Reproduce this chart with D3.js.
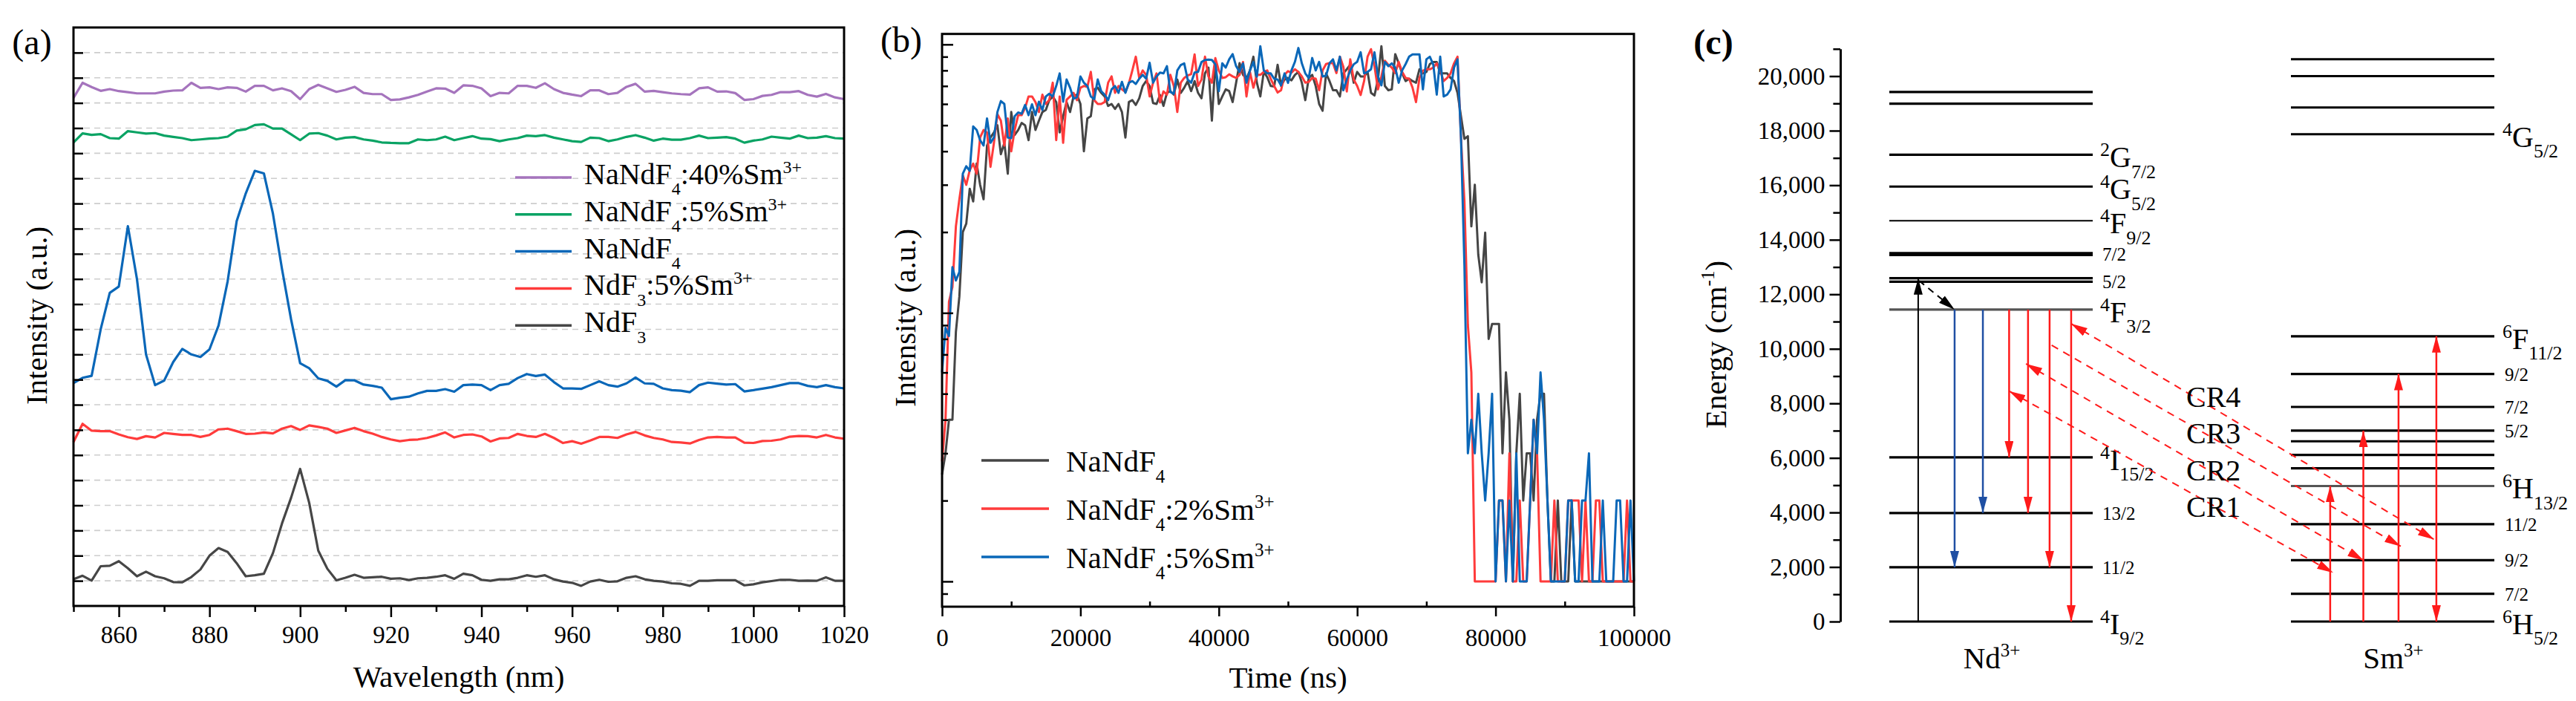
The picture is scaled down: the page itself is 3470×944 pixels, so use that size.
<!DOCTYPE html>
<html><head><meta charset="utf-8">
<script src="https://cdn.jsdelivr.net/npm/d3@7/dist/d3.min.js"></script>
<style>
html,body{margin:0;padding:0;background:#fff;}
svg{display:block;}
svg text, svg tspan { font-family: "Liberation Serif", "DejaVu Serif", "Times New Roman", serif; }
</style></head>
<body>
<svg id="fig" width="3470" height="944" xmlns="http://www.w3.org/2000/svg"></svg>
<script>
// ================= DATA =================
// (a) emission spectra, stacked, arbitrary units, every 2 nm from 850 to 1020 nm
const wavelength = d3.range(850, 1021, 2);
const specNdF3 = [
 1.06,1.20,1.01,1.58,1.60,1.78,1.50,1.18,1.36,1.18,
 1.10,0.95,0.94,1.15,1.45,2.00,2.30,2.15,1.70,1.18,
 1.22,1.28,2.10,3.28,4.30,5.45,4.10,2.20,1.48,1.02,
 1.12,1.24,1.12,1.14,1.16,1.08,1.10,1.03,1.10,1.12,
 1.16,1.22,1.08,1.28,1.22,1.04,1.00,1.06,1.06,1.12,
 1.22,1.16,1.22,1.06,0.97,0.92,0.80,0.97,1.04,0.96,
 0.98,1.12,1.18,1.06,1.00,0.97,0.90,0.88,0.80,1.00,
 1.00,1.02,1.02,1.02,0.82,0.86,0.94,0.99,1.04,1.04,
 1.00,1.01,1.00,1.14,1.00,1.00];
const specNdF3Sm5 = [
 6.52,7.24,6.97,6.95,6.95,6.82,6.71,6.64,6.75,6.70,
 6.88,6.84,6.80,6.80,6.72,6.80,7.02,7.05,6.95,6.84,
 6.85,6.90,6.86,7.05,7.15,7.00,7.18,7.12,7.05,6.88,
 6.98,7.08,6.95,6.85,6.72,6.62,6.55,6.60,6.62,6.68,
 6.78,6.90,6.70,6.80,6.82,6.74,6.54,6.66,6.68,6.84,
 6.76,6.72,6.84,6.68,6.48,6.55,6.45,6.58,6.72,6.72,
 6.68,6.82,6.92,6.78,6.68,6.62,6.52,6.50,6.46,6.60,
 6.70,6.72,6.70,6.70,6.49,6.48,6.56,6.57,6.62,6.73,
 6.76,6.75,6.70,6.80,6.70,6.65];
const specNaNdF4 = [
 8.86,9.07,9.15,11.0,12.45,12.70,15.10,13.00,10.00,8.78,
 8.96,9.70,10.22,10.00,9.90,10.20,11.15,12.90,15.30,16.40,
 17.30,17.20,15.60,13.40,11.40,9.65,9.45,9.05,8.95,8.72,
 8.98,8.97,8.80,8.75,8.68,8.22,8.28,8.32,8.45,8.55,
 8.55,8.62,8.52,8.78,8.80,8.78,8.58,8.78,8.83,9.06,
 9.22,9.14,9.20,8.90,8.65,8.65,8.63,8.78,8.93,8.78,
 8.72,8.85,9.08,8.85,8.83,8.65,8.58,8.56,8.50,8.78,
 8.88,8.84,8.80,8.82,8.53,8.58,8.64,8.70,8.78,8.86,
 8.86,8.75,8.70,8.78,8.70,8.65];
const specNaNdF4Sm5 = [
 18.43,18.79,18.73,18.76,18.60,18.58,18.88,18.83,18.78,18.80,
 18.70,18.65,18.60,18.52,18.55,18.58,18.60,18.66,18.90,18.95,
 19.12,19.15,18.98,18.98,18.75,18.52,18.78,18.80,18.70,18.55,
 18.62,18.64,18.55,18.50,18.43,18.41,18.40,18.40,18.55,18.52,
 18.55,18.66,18.52,18.60,18.68,18.58,18.56,18.48,18.55,18.60,
 18.70,18.68,18.72,18.62,18.55,18.48,18.45,18.62,18.60,18.48,
 18.55,18.65,18.72,18.62,18.50,18.58,18.54,18.54,18.60,18.70,
 18.60,18.62,18.64,18.58,18.42,18.50,18.55,18.66,18.62,18.58,
 18.70,18.60,18.62,18.68,18.60,18.58];
const specNaNdF4Sm40 = [
 20.20,20.80,20.63,20.48,20.55,20.47,20.43,20.38,20.38,20.38,
 20.45,20.49,20.50,20.80,20.60,20.62,20.55,20.62,20.60,20.45,
 20.68,20.68,20.50,20.58,20.47,20.15,20.55,20.72,20.58,20.44,
 20.52,20.64,20.40,20.35,20.35,20.12,20.14,20.22,20.32,20.45,
 20.58,20.57,20.40,20.70,20.68,20.58,20.27,20.40,20.38,20.68,
 20.68,20.60,20.78,20.55,20.40,20.33,20.27,20.50,20.50,20.35,
 20.40,20.64,20.76,20.45,20.48,20.43,20.38,20.35,20.33,20.58,
 20.62,20.45,20.46,20.39,20.12,20.15,20.28,20.32,20.43,20.43,
 20.47,20.32,20.25,20.36,20.22,20.15];
const aXMajor = [860,880,900,920,940,960,980,1000,1020];
const aXMinor = [850,870,890,910,930,950,970,990,1010];
const aYTicks = d3.range(1, 23);

// (b) time-resolved intensity (counts), every 500 ns from 0 to 100000 ns
const timeNs = d3.range(0, 100001, 500);
const decayNaNdF4 = [
 25,30,40,40,85,115,200,215,290,260,
 360,300,265,420,450,470,500,390,430,330,
 560,460,480,510,500,440,560,480,520,560,
 570,620,640,610,470,540,610,560,640,650,
 600,400,530,540,680,690,660,640,590,600,
 575,600,560,450,610,620,595,630,700,730,
 700,605,600,648,590,660,670,650,740,660,
 690,730,670,730,660,630,780,820,520,860,
 600,640,680,670,610,720,852,770,745,800,
 900,720,640,791,755,700,697,840,700,740,
 750,735,770,790,720,620,750,770,700,600,
 566,780,730,675,675,640,780,808,840,720,
 790,760,760,790,660,645,740,985,700,675,
 680,920,850,780,730,745,730,720,808,780,
 790,845,860,860,780,780,780,750,730,660,
 540,445,455,210,300,165,130,199,80,91,
 91,91,30,60,40,10,30,50,20,30,
 30,20,40,50,50,20,10,10,20,10,
 10,10,20,10,10,10,10,10,10,10,
 10,10,10,10,10,10,10,10,10,10,
 10];
const decaySm2 = [
 28,40,110,125,210,265,325,300,340,360,
 330,450,480,470,350,430,550,520,420,530,
 400,480,545,545,580,640,640,610,560,650,
 600,622,720,440,640,430,622,640,660,620,
 690,700,695,790,620,600,600,610,720,760,
 660,700,680,665,715,800,900,750,800,770,
 640,720,780,608,668,650,770,700,560,720,
 750,766,775,918,700,740,900,760,720,889,
 800,750,755,774,760,750,770,860,640,790,
 690,770,770,790,800,745,700,662,675,770,
 795,785,808,790,760,720,725,750,745,675,
 800,845,852,852,782,900,825,668,880,740,
 700,648,730,900,960,830,680,760,870,840,
 820,782,860,790,750,745,690,610,750,799,
 808,808,820,850,800,730,750,780,850,900,
 450,260,90,60,10,10,10,10,10,10,
 10,20,20,10,30,10,10,20,10,10,
 20,40,30,10,10,10,10,20,10,10,
 10,20,20,20,20,10,20,10,10,20,
 20,10,10,10,10,10,10,10,20,10,
 10];
const decaySm5 = [
 60,88,82,148,132,142,330,352,338,495,
 480,440,420,530,430,450,560,615,600,450,
 448,540,558,552,595,545,598,545,612,570,
 640,655,640,700,780,612,740,690,628,635,
 760,720,700,640,625,740,670,650,620,680,
 700,660,725,660,720,730,712,745,770,745,
 855,720,760,785,780,830,665,655,800,838,
 850,740,720,785,790,860,875,878,875,843,
 670,850,820,880,920,830,791,850,720,800,
 860,758,985,800,780,780,745,740,704,780,
 719,800,861,970,850,780,750,890,800,861,
 760,764,850,880,800,900,675,740,800,843,
 861,935,780,790,808,935,760,704,860,830,
 850,820,720,800,845,900,918,918,918,680,
 880,900,840,650,900,640,650,680,820,880,
 450,150,30,40,30,50,30,20,30,50,
 10,20,20,10,20,10,30,10,10,10,
 20,40,30,60,40,20,10,10,10,10,
 10,20,20,10,10,20,20,30,10,10,
 10,20,10,10,10,20,20,10,10,20,
 10];
const bXMajor = [0,20000,40000,60000,80000,100000];
const bXMinor = [10000,30000,50000,70000,90000];
const bYMajor = [10,100,1000];
const bYMinor = [9,20,30,40,50,60,70,80,90,200,300,400,500,600,700,800,900];

// (c) energy levels (cm^-1)
const ndLevels = [19420,18990,17120,15950,14700,13510,13440,12590,12460,11440,6020,3980,1990,0];
const smLevels = [20620,20000,18850,17870,10460,9080,7870,7000,6610,6110,5620,4970,3570,2250,1020,0];
// [superscript, term letter, J, energy]
const ndLabels = [["2","G","7/2",17120],["4","G","5/2",15950],["4","F","9/2",14700],["","","7/2",13470],
  ["","","5/2",12460],["4","F","3/2",11440],["4","I","15/2",6020],["","","13/2",3980],["","","11/2",1990],["4","I","9/2",0]];
const smLabels = [["4","G","5/2",17870],["6","F","11/2",10460],["","","9/2",9080],["","","7/2",7870],["","","5/2",7000],
  ["6","H","13/2",4970],["","","11/2",3570],["","","9/2",2250],["","","7/2",1020],["6","H","5/2",0]];
// transitions: [relative slot across the ion's level bar, from E, to E]
const ndPump = [0.142, 0, 12590];
const ndRelax = [0.146, 12500, 0.321, 11440];
const ndBlue = [[0.321, 11440, 1990],[0.460, 11440, 3980]];
const ndRed = [[0.589, 11440, 6020],[0.682, 11440, 3980],[0.788, 11440, 1990],[0.894, 11440, 0]];
const smUp = [[0.193, 0, 4970],[0.356, 0, 7000],[0.529, 0, 9080],[0.715, 0, 10460]];
// cross relaxation: [Nd slot, Nd E, Sm slot, Sm E]
const crLinks = [[0.589, 8450, 0.208, 1790],[0.672, 9450, 0.358, 2240],[0.798, 10130, 0.540, 2760],[0.894, 10920, 0.704, 3010]];
const crNames = ["CR1","CR2","CR3","CR4"];
const cTicksMajor = d3.range(0, 20001, 2000);
const cTicksMinor = d3.range(1000, 21001, 2000);

// ================= DRAW =================
const svg = d3.select('#fig');
const FONT = "Liberation Serif, DejaVu Serif, serif";
svg.attr('font-family', FONT);
svg.append('rect').attr('width',3470).attr('height',944).attr('fill','#fff');

function rich(g, x, y, parts, size, anchor, ssize) {
  const t = g.append('text').attr('x', x).attr('y', y).attr('font-size', size)
     .attr('text-anchor', anchor || 'start').attr('fill', '#000');
  let cur = 0;
  parts.forEach(p => {
    const txt = Array.isArray(p) ? p[0] : p;
    const kind = Array.isArray(p) ? p[1] : '';
    const off = kind === 'sub' ? 0.36 * size : kind === 'sup' ? -0.38 * size : 0;
    t.append('tspan').attr('dy', off - cur).attr('font-size', kind ? (ssize || 0.6 * size) : size).text(txt);
    cur = off;
  });
  return t;
}
function styleAxis(g, fs) {
  g.attr('font-family', FONT).attr('font-size', fs);
  g.selectAll('.tick line').attr('stroke', '#000').attr('stroke-width', 2.5);
  g.selectAll('.tick text').attr('fill', '#000');
}

// ---------- Panel (a) ----------
const A = {l: 99, r: 1137, t: 37, b: 816};
const xA = d3.scaleLinear().domain([850, 1020]).range([A.l, A.r]);
const yA = d3.scaleLinear().domain([0, 23]).range([A.b, A.t]);
const gA = svg.append('g');
gA.append('g').selectAll('line').data(aYTicks).join('line')
  .attr('x1', A.l).attr('x2', A.r).attr('y1', d => yA(d)).attr('y2', d => yA(d))
  .attr('stroke', '#cdcdcd').attr('stroke-width', 1.6).attr('stroke-dasharray', '8,6');
const aSeries = [
  {v: specNdF3, c: '#464646', name: ['NdF', ['3','sub']]},
  {v: specNdF3Sm5, c: '#ff3b3b', name: ['NdF', ['3','sub'], ':5%Sm', ['3+','sup']]},
  {v: specNaNdF4, c: '#0a67b8', name: ['NaNdF', ['4','sub']]},
  {v: specNaNdF4Sm5, c: '#0aa364', name: ['NaNdF', ['4','sub'], ':5%Sm', ['3+','sup']]},
  {v: specNaNdF4Sm40, c: '#a574bd', name: ['NaNdF', ['4','sub'], ':40%Sm', ['3+','sup']]}
];
const lineA = d3.line().x((d, i) => xA(wavelength[i])).y(d => yA(d));
aSeries.forEach(s => gA.append('path').attr('d', lineA(s.v)).attr('fill', 'none')
  .attr('stroke', s.c).attr('stroke-width', 3.2).attr('stroke-linejoin', 'round'));
// axes
gA.append('g').attr('transform', `translate(0,${A.b})`)
  .call(d3.axisBottom(xA).tickValues(aXMinor).tickSize(8).tickFormat(''))
  .call(g => { g.select('.domain').remove(); styleAxis(g, 33); });
gA.append('g').attr('transform', `translate(0,${A.b})`)
  .call(d3.axisBottom(xA).tickValues(aXMajor).tickSize(15).tickPadding(12).tickFormat(d3.format('d')))
  .call(g => { g.select('.domain').remove(); styleAxis(g, 33); });
gA.append('g').attr('transform', `translate(${A.l},0)`)
  .call(d3.axisLeft(yA).tickValues(aYTicks).tickSize(-13).tickFormat(''))
  .call(g => { g.select('.domain').remove(); styleAxis(g, 33); });
gA.append('rect').attr('x', A.l).attr('y', A.t).attr('width', A.r - A.l).attr('height', A.b - A.t)
  .attr('fill', 'none').attr('stroke', '#000').attr('stroke-width', 3);
// legend (top to bottom)
const legA = gA.append('g');
aSeries.slice().reverse().forEach((s, i) => {
  const ly = 239 + i * 49.8;
  legA.append('line').attr('x1', 694).attr('x2', 770).attr('y1', ly).attr('y2', ly)
    .attr('stroke', s.c).attr('stroke-width', 3.5);
  rich(legA, 787, ly + 9, s.name, 40, 'start', 24);
});
rich(gA, 43, 73, ['(a)'], 48, 'middle');
gA.append('text').attr('x', 618).attr('y', 925).attr('text-anchor', 'middle').attr('font-size', 41).text('Wavelength (nm)');
gA.append('text').attr('transform', 'translate(63,425) rotate(-90)').attr('text-anchor', 'middle').attr('font-size', 41).text('Intensity (a.u.)');

// ---------- Panel (b) ----------
const B = {l: 1269, r: 2201, t: 45.7, b: 817};
const xB = d3.scaleLinear().domain([0, 100000]).range([B.l, B.r]);
const yB = d3.scaleLog().domain([8.05, 1094]).range([B.b, B.t]);
const gB = svg.append('g');
const bSeries = [
  {v: decayNaNdF4, c: '#454545', name: ['NaNdF', ['4','sub']]},
  {v: decaySm2, c: '#ff3b3b', name: ['NaNdF', ['4','sub'], ':2%Sm', ['3+','sup']]},
  {v: decaySm5, c: '#0a67b8', name: ['NaNdF', ['4','sub'], ':5%Sm', ['3+','sup']]}
];
const lineB = d3.line().x((d, i) => xB(timeNs[i])).y(d => yB(d));
bSeries.forEach(s => gB.append('path').attr('d', lineB(s.v)).attr('fill', 'none')
  .attr('stroke', s.c).attr('stroke-width', 3).attr('stroke-linejoin', 'round'));
gB.append('g').attr('transform', `translate(0,${B.b})`)
  .call(d3.axisBottom(xB).tickValues(bXMinor).tickSize(-7).tickFormat(''))
  .call(g => { g.select('.domain').remove(); styleAxis(g, 33); });
gB.append('g').attr('transform', `translate(0,${B.b})`)
  .call(d3.axisBottom(xB).tickValues(bXMajor).tickSize(13).tickPadding(17).tickFormat(d3.format('d')))
  .call(g => { g.select('.domain').remove(); styleAxis(g, 33); });
gB.append('g').attr('transform', `translate(${B.l},0)`)
  .call(d3.axisLeft(yB).tickValues(bYMinor).tickSize(-8).tickFormat(''))
  .call(g => { g.select('.domain').remove(); styleAxis(g, 33); });
gB.append('g').attr('transform', `translate(${B.l},0)`)
  .call(d3.axisLeft(yB).tickValues(bYMajor).tickSize(-15).tickFormat(''))
  .call(g => { g.select('.domain').remove(); styleAxis(g, 33); });
gB.append('rect').attr('x', B.l).attr('y', B.t).attr('width', B.r - B.l).attr('height', B.b - B.t)
  .attr('fill', 'none').attr('stroke', '#000').attr('stroke-width', 3);
bSeries.forEach((s, i) => {
  const ly = 620 + i * 65;
  gB.append('line').attr('x1', 1322).attr('x2', 1413).attr('y1', ly).attr('y2', ly)
    .attr('stroke', s.c).attr('stroke-width', 3.5);
  rich(gB, 1436, ly + 15, s.name, 41, 'start', 25);
});
rich(gB, 1214, 70, ['(b)'], 48, 'middle');
gB.append('text').attr('x', 1735).attr('y', 926).attr('text-anchor', 'middle').attr('font-size', 41).text('Time (ns)');
gB.append('text').attr('transform', 'translate(1233,428) rotate(-90)').attr('text-anchor', 'middle').attr('font-size', 41).text('Intensity (a.u.)');

// ---------- Panel (c) ----------
const gC = svg.append('g');
const yC = d3.scaleLinear().domain([0, 21000]).range([837, 65.8]);
const xNd = d3.scaleLinear().domain([0, 1]).range([2545, 2819]);
const xSm = d3.scaleLinear().domain([0, 1]).range([3086, 3360]);
const defs = svg.append('defs');
function marker(id, color) {
  defs.append('marker').attr('id', id).attr('markerUnits', 'userSpaceOnUse')
    .attr('markerWidth', 24).attr('markerHeight', 14).attr('refX', 22).attr('refY', 6)
    .attr('orient', 'auto-start-reverse')
    .append('path').attr('d', 'M0,0 L22,6 L0,12 Z').attr('fill', color);
}
marker('mRed', '#ff1a1a'); marker('mBlue', '#1f4fa3'); marker('mBlack', '#000');
// axis
gC.append('g').attr('transform', 'translate(2479,0)')
  .call(d3.axisLeft(yC).tickValues(cTicksMinor).tickSize(9.6).tickFormat('').tickSizeOuter(0))
  .call(g => { g.select('.domain').attr('stroke', '#000').attr('stroke-width', 3); styleAxis(g, 33); });
gC.append('g').attr('transform', 'translate(2479,0)')
  .call(d3.axisLeft(yC).tickValues(cTicksMajor).tickSize(14.5).tickPadding(6).tickFormat(d3.format(',')))
  .call(g => { g.select('.domain').remove(); styleAxis(g, 33); });
rich(gC, 2308, 73, ['(c)'], 48, 'middle').attr('font-weight', 'bold');
rich(gC.append('g').attr('transform', 'translate(2325,464) rotate(-90)'), 0, 0,
  ['Energy (cm', ['-1', 'sup'], ')'], 41, 'middle', 25);
// levels
function levelColor(E, grayE) { return E === grayE ? '#555' : '#000'; }
gC.append('g').selectAll('line').data(ndLevels).join('line')
  .attr('x1', xNd(0)).attr('x2', xNd(1)).attr('y1', d => yC(d)).attr('y2', d => yC(d))
  .attr('stroke', d => levelColor(d, 11440)).attr('stroke-width', d => d === 14700 ? 2 : 3.2);
gC.append('g').selectAll('line').data(smLevels).join('line')
  .attr('x1', xSm(0)).attr('x2', xSm(1)).attr('y1', d => yC(d)).attr('y2', d => yC(d))
  .attr('stroke', d => levelColor(d, 4970)).attr('stroke-width', 3.2);
function levelLabel(x, lab) {
  const [sup, letter, j, E] = lab;
  if (letter) rich(gC, x, yC(E) + 17, [[sup, 'sup'], letter, [j, 'sub']], 40, 'start', 26);
  else gC.append('text').attr('x', x + 3).attr('y', yC(E) + 9).attr('font-size', 25).text(j);
}
ndLabels.forEach(l => levelLabel(2829, l));
smLabels.forEach(l => levelLabel(3371, l));
// transitions
function vArrow(xs, a, color, mk, w, both) {
  const ln = gC.append('line').attr('x1', xs(a[0])).attr('x2', xs(a[0]))
    .attr('y1', yC(a[1])).attr('y2', yC(a[2])).attr('stroke', color).attr('stroke-width', w)
    .attr('marker-end', `url(#${mk})`);
  if (both) ln.attr('marker-start', `url(#${mk})`);
}
vArrow(xNd, ndPump, '#000', 'mBlack', 2);
gC.append('line').attr('x1', xNd(ndRelax[0])).attr('y1', yC(ndRelax[1]))
  .attr('x2', xNd(ndRelax[2])).attr('y2', yC(ndRelax[3]))
  .attr('stroke', '#000').attr('stroke-width', 2).attr('stroke-dasharray', '9,7').attr('marker-end', 'url(#mBlack)');
ndBlue.forEach(a => vArrow(xNd, a, '#1f4fa3', 'mBlue', 2.5));
ndRed.forEach(a => vArrow(xNd, a, '#ff1a1a', 'mRed', 2.5));
smUp.forEach((a, i) => vArrow(xSm, a, '#ff1a1a', 'mRed', 2.5, i === 3));
crLinks.forEach((c, i) => {
  const ln = gC.append('line').attr('x1', xNd(c[0])).attr('y1', yC(c[1]))
    .attr('x2', xSm(c[2])).attr('y2', yC(c[3]))
    .attr('stroke', '#ff1a1a').attr('stroke-width', 2).attr('stroke-dasharray', '10,8')
    .attr('marker-end', 'url(#mRed)');
  if (i !== 2) ln.attr('marker-start', 'url(#mRed)');
});
crNames.forEach((n, i) => gC.append('text').attr('x', 2945).attr('y', 696 - i * 49.5)
  .attr('font-size', 40).text(n));
rich(gC, 2683, 900, ['Nd', ['3+', 'sup']], 41, 'middle', 25);
rich(gC, 3224, 900, ['Sm', ['3+', 'sup']], 41, 'middle', 25);
</script>
</body></html>
